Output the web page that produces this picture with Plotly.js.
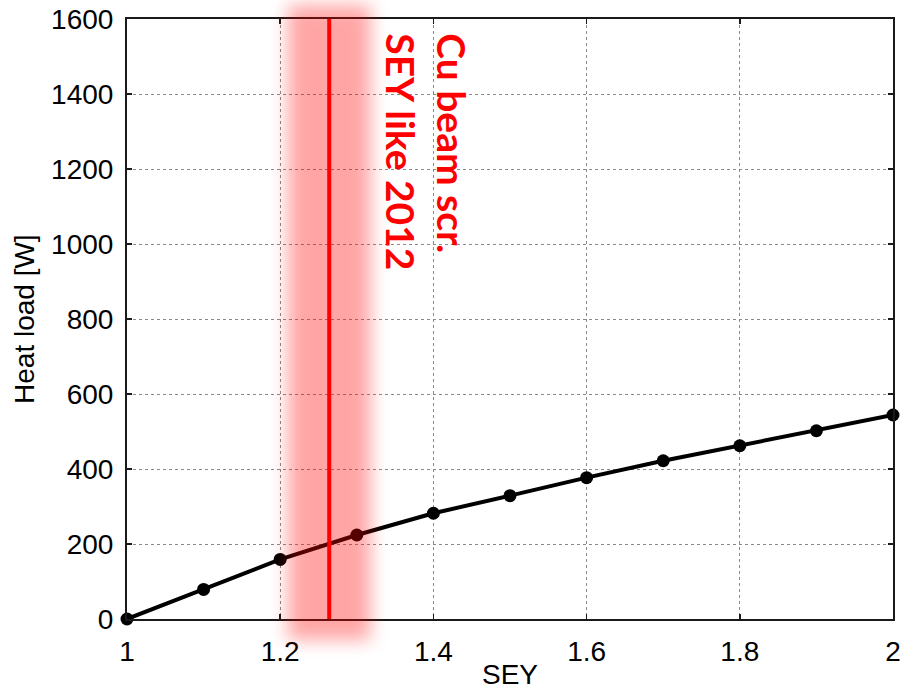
<!DOCTYPE html>
<html>
<head>
<meta charset="utf-8">
<script src="https://cdn.plot.ly/plotly-3.0.1.min.js"></script>
<style>
  html, body { margin: 0; padding: 0; background: #ffffff; }
  #chart { width: 902px; height: 691px; }
</style>
</head>
<body>
<div id="chart"></div>
<script>
// Secondary electron yield scan and the resulting heat load
const sey = [1.0, 1.1, 1.2, 1.3, 1.4, 1.5, 1.6, 1.7, 1.8, 1.9, 2.0];
const heatLoad = [0, 79, 159, 224, 282, 329, 377, 422, 462, 502, 544];

// SEY of the Cu beam screen as measured in 2012
const seyCu2012 = 1.264;
const seyCuSpread = 0.054;

const noteLines = ['Cu beam scr.', 'SEY like 2012'];
const xTickVals = [1, 1.2, 1.4, 1.6, 1.8, 2];
const xTickText = ['1', '1.2', '1.4', '1.6', '1.8', '2'];
const yTickVals = [0, 200, 400, 600, 800, 1000, 1200, 1400, 1600];

const axisFont = { family: 'Liberation Sans, Arial, sans-serif', size: 28, color: '#000000' };
const noteFont = { family: 'Lato, "Open Sans", sans-serif', size: 39, color: '#ff0000', weight: 700 };

const trace = {
  x: sey,
  y: heatLoad,
  type: 'scatter',
  mode: 'lines+markers',
  line: { color: '#000000', width: 4 },
  marker: { color: '#000000', size: 13 },
  cliponaxis: false,
  hoverinfo: 'skip'
};

const axisCommon = {
  showline: true,
  linecolor: '#1a1a1a',
  linewidth: 2,
  mirror: 'ticks',
  ticks: 'inside',
  ticklen: 5,
  tickwidth: 1.5,
  tickcolor: '#1a1a1a',
  showgrid: true,
  gridcolor: '#8a8a8a',
  gridwidth: 1,
  griddash: 'dot',
  zeroline: false,
  tickfont: axisFont,
  automargin: false,
  fixedrange: true
};

const layout = {
  width: 902,
  height: 691,
  margin: { l: 127, r: 9, t: 19, b: 72, pad: 0 },
  paper_bgcolor: '#ffffff',
  plot_bgcolor: '#ffffff',
  showlegend: false,
  xaxis: Object.assign({}, axisCommon, {
    range: [1, 2],
    tickmode: 'array',
    tickvals: xTickVals,
    ticktext: xTickText,
    ticklabelstandoff: 6
  }),
  yaxis: Object.assign({}, axisCommon, {
    range: [0, 1600],
    tickmode: 'array',
    tickvals: yTickVals,
    ticklabelstandoff: 6
  }),
  shapes: [
    {
      // soft band marking the spread around the 2012 value
      type: 'rect',
      xref: 'x', yref: 'paper',
      x0: seyCu2012 - seyCuSpread, x1: seyCu2012 + seyCuSpread,
      y0: -0.035, y1: 1.023,
      fillcolor: '#ff0000',
      opacity: 0.35,
      line: { width: 0 },
      layer: 'above'
    },
    {
      type: 'line',
      xref: 'x', yref: 'paper',
      x0: seyCu2012, x1: seyCu2012,
      y0: 0, y1: 1,
      line: { color: '#ff0000', width: 4 },
      layer: 'above'
    }
  ],
  annotations: [
    {
      text: noteLines[0],
      xref: 'x', yref: 'y',
      x: 1.424, y: 1568,
      xanchor: 'center', yanchor: 'top',
      textangle: 90,
      showarrow: false,
      font: noteFont
    },
    {
      text: noteLines[1],
      xref: 'x', yref: 'y',
      x: 1.358, y: 1568,
      xanchor: 'center', yanchor: 'top',
      textangle: 90,
      showarrow: false,
      font: noteFont
    },
    {
      text: 'Heat load [W]',
      xref: 'paper', yref: 'paper',
      x: -0.1345, y: 0.5,
      xanchor: 'center', yanchor: 'middle',
      textangle: -90,
      showarrow: false,
      font: axisFont
    },
    {
      text: 'SEY',
      xref: 'paper', yref: 'paper',
      x: 0.5, y: -0.093,
      xanchor: 'center', yanchor: 'middle',
      borderpad: 0,
      showarrow: false,
      font: axisFont
    }
  ]
};

const gd = document.getElementById('chart');
Plotly.newPlot(gd, [trace], layout, { staticPlot: true, displayModeBar: false }).then(function () {
  // blur the band so its edges fade out softly
  const ns = 'http://www.w3.org/2000/svg';
  const svg = gd.querySelector('svg.main-svg');
  let defs = svg.querySelector('defs');
  if (!defs) { defs = document.createElementNS(ns, 'defs'); svg.insertBefore(defs, svg.firstChild); }
  const filter = document.createElementNS(ns, 'filter');
  filter.setAttribute('id', 'band-blur');
  filter.setAttribute('x', '-100%');
  filter.setAttribute('y', '-20%');
  filter.setAttribute('width', '300%');
  filter.setAttribute('height', '140%');
  const blur = document.createElementNS(ns, 'feGaussianBlur');
  blur.setAttribute('stdDeviation', '9');
  filter.appendChild(blur);
  defs.appendChild(filter);
  const band = gd.querySelector('.layer-above .shapelayer path');
  if (band) band.setAttribute('filter', 'url(#band-blur)');
});
</script>
</body>
</html>
